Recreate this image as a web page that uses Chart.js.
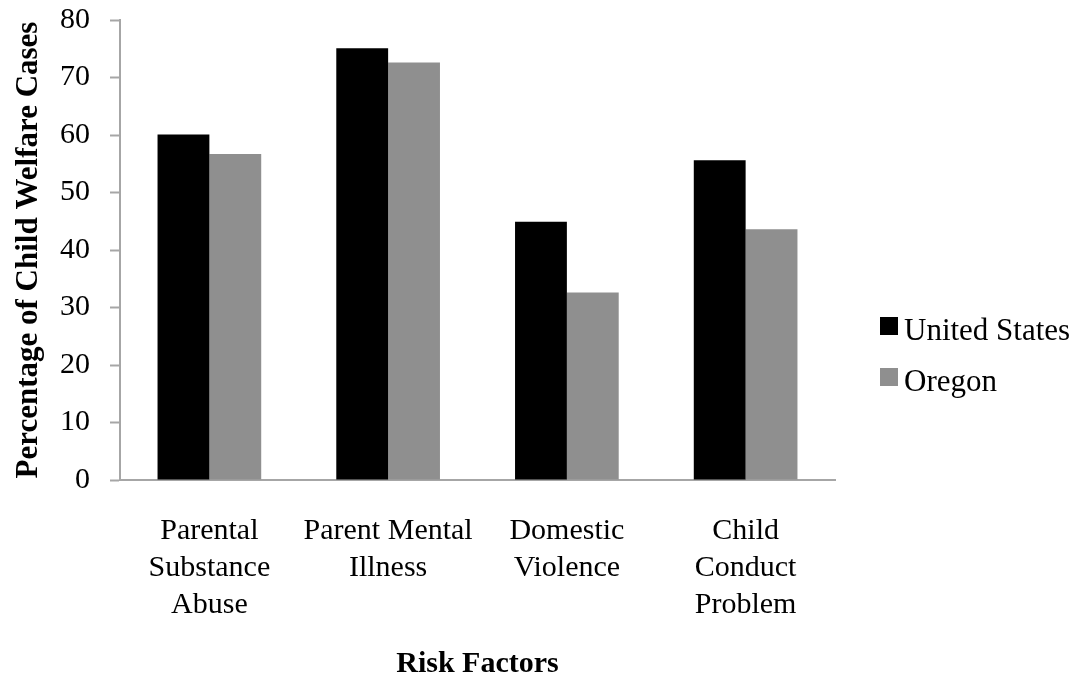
<!DOCTYPE html>
<html lang="en">
<head>
  <meta charset="UTF-8">
  <title>Risk Factors</title>
  <script src="https://cdn.jsdelivr.net/npm/chart.js"></script>
  <style>
    html, body { margin: 0; padding: 0; background: #fff; }
    #box { width: 1080px; height: 679px; }
  </style>
</head>
<body>
  <div id="box"><canvas id="grafico"></canvas></div>

  <script>
    const categorias = [
      ['Parental', 'Substance', 'Abuse'],
      ['Parent Mental', 'Illness'],
      ['Domestic', 'Violence'],
      ['Child', 'Conduct', 'Problem']
    ];
    const valoresEUA = [60.1, 75.1, 44.9, 55.6];
    const valoresOregon = [56.7, 72.6, 32.6, 43.6];
    const ticksY = [0, 10, 20, 30, 40, 50, 60, 70, 80];

    const fonte = '"Liberation Serif", "Times New Roman", serif';
    const corEixo = '#a6a6a6';

    // legenda desenhada à direita
    const legendaDireita = {
      id: 'legendaDireita',
      afterDraw(chart) {
        const ctx = chart.ctx;
        ctx.save();
        ctx.font = '31px ' + fonte;
        ctx.textBaseline = 'alphabetic';
        chart.data.datasets.forEach((ds, i) => {
          const y = 317 + i * 51;
          ctx.fillStyle = ds.backgroundColor;
          ctx.fillRect(880, y, 18, 18);
          ctx.fillStyle = '#000';
          ctx.fillText(ds.label, 904, y + 23);
        });
        ctx.restore();
      }
    };

    const ctx = document.getElementById('grafico').getContext('2d');
    new Chart(ctx, {
      type: 'bar',
      data: {
        labels: categorias,
        datasets: [
          { label: 'United States', data: valoresEUA, backgroundColor: '#000000', borderWidth: 0 },
          { label: 'Oregon', data: valoresOregon, backgroundColor: '#8f8f8f', borderWidth: 0 }
        ]
      },
      options: {
        responsive: true,
        maintainAspectRatio: false,
        animation: false,
        layout: { padding: { top: 2, right: 245, left: 0, bottom: 0 } },
        datasets: { bar: { categoryPercentage: 0.58, barPercentage: 1.0 } },
        scales: {
          x: {
            grid: { display: false, drawTicks: false },
            border: { display: true, color: corEixo, width: 2 },
            ticks: {
              color: '#000',
              padding: 33,
              maxRotation: 0,
              autoSkip: false,
              font: { family: fonte, size: 30, lineHeight: 1.23 }
            },
            title: {
              display: true,
              text: 'Risk Factors',
              color: '#000',
              padding: 0,
              font: { family: fonte, size: 30, weight: 'bold', lineHeight: 1 }
            },
            afterFit: s => { s.height = 199; }
          },
          y: {
            min: 0,
            max: 80,
            afterBuildTicks: s => { s.ticks = ticksY.map(v => ({ value: v })); },
            grid: {
              display: true,
              drawOnChartArea: false,
              drawTicks: true,
              tickLength: 10,
              tickColor: corEixo,
              tickWidth: 2
            },
            border: { display: true, color: corEixo, width: 2 },
            ticks: {
              color: '#000',
              padding: 20,
              font: { family: fonte, size: 30 }
            },
            title: {
              display: true,
              text: 'Percentage of Child Welfare Cases',
              color: '#000',
              padding: { top: 10, bottom: 0 },
              font: { family: fonte, size: 31, weight: 'bold', lineHeight: 1.2 }
            },
            afterFit: s => { s.width = 120; s.paddingTop = 20; }
          }
        },
        plugins: {
          legend: { display: false },
          tooltip: { enabled: false }
        }
      },
      plugins: [legendaDireita]
    });
  </script>
</body>
</html>
